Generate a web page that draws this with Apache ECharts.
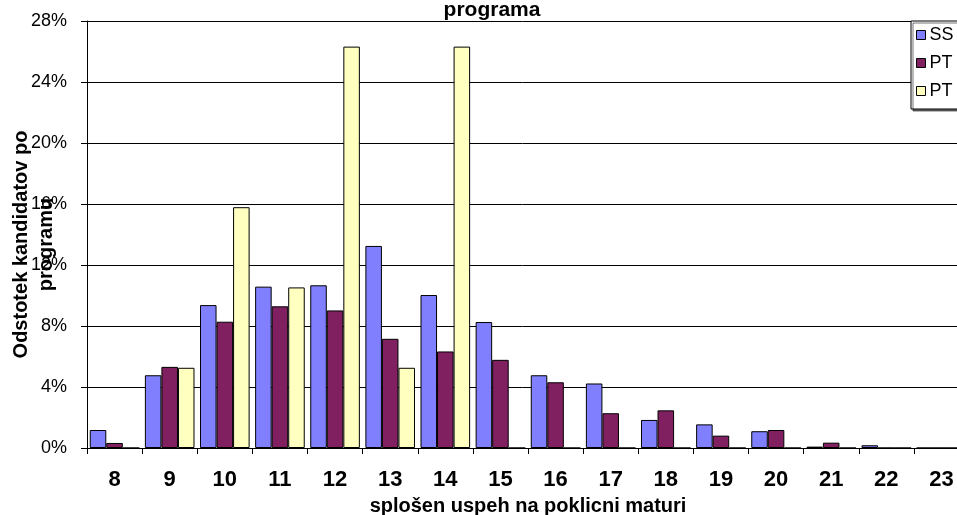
<!DOCTYPE html>
<html>
<head>
<meta charset="utf-8">
<script src="https://cdn.jsdelivr.net/npm/echarts@6/dist/echarts.min.js"></script>
<style>
html,body{margin:0;padding:0;background:#fff;}
#c{width:957px;height:515px;}
</style>
</head>
<body>
<div id="c"></div>
<script>
const categories = ['8','9','10','11','12','13','14','15','16','17','18','19','20','21','22','23'];
const seriesNames = ['SS', 'PT', 'PT '];
const ssValues  = [1.18, 4.77, 9.37, 10.58, 10.67, 13.25, 10.03, 8.26, 4.77, 4.23, 1.84, 1.55, 1.10, 0.09, 0.18, 0];
const pt1Values = [0.33, 5.32, 8.28, 9.29, 9.02, 7.16, 6.33, 5.78, 4.31, 2.28, 2.47, 0.81, 1.18, 0.35, 0, 0];
const pt2Values = [0, 5.26, 15.79, 10.53, 26.32, 5.26, 26.32, 0, 0, 0, 0, 0, 0, 0, 0, 0];
const yTicks = { min: 0, max: 28, interval: 4 };
const titleText = 'programa';
const yName = 'Odstotek kandidatov po\nprogramu';
const xName = 'splošen uspeh na poklicni maturi';
const colors = ['#8080FF', '#802060', '#FFFFC0'];

const FONT = 'Arial, "Liberation Sans", sans-serif';
const chart = echarts.init(document.getElementById('c'), null, {renderer: 'canvas'});

const barStyle = (c) => ({ color: c, borderColor: '#000', borderWidth: 1 });

chart.setOption({
  animation: false,
  backgroundColor: '#fff',
  title: {
    text: titleText,
    left: 492,
    textAlign: 'center',
    top: 0,
    padding: 0,
    textStyle: { fontFamily: FONT, fontSize: 21, fontWeight: 'bold', color: '#000', lineHeight: 21 }
  },
  legend: {
    orient: 'vertical',
    left: 911,
    top: 21,
    padding: [5, 40, 9, 5],
    itemGap: 10,
    itemWidth: 9,
    itemHeight: 9,
    icon: 'rect',
    backgroundColor: '#fff',
    borderColor: '#000',
    borderWidth: 1,
    borderRadius: 0,
    shadowColor: 'rgba(0,0,0,0.55)',
    shadowOffsetX: 2,
    shadowOffsetY: 2,
    shadowBlur: 0,
    itemStyle: { borderColor: '#000', borderWidth: 1 },
    textStyle: { fontFamily: FONT, fontSize: 18, lineHeight: 18, color: '#000', padding: [0, 0, 0, -1] },
    data: seriesNames
  },
  grid: {
    left: 87, top: 21, bottom: 67, right: -12,
    containLabel: false,
    outerBoundsMode: 'none'
  },
  xAxis: {
    type: 'category',
    data: categories,
    boundaryGap: true,
    name: xName,
    nameLocation: 'middle',
    nameGap: 48,
    nameMoveOverlap: false,
    nameTextStyle: { fontFamily: FONT, fontSize: 20, fontWeight: 'bold', color: '#000', lineHeight: 20 },
    axisLine: { show: true, lineStyle: { color: '#000', width: 1 } },
    axisTick: { show: true, length: 6, interval: 0, alignWithLabel: false, lineStyle: { color: '#000' } },
    axisLabel: { interval: 0, margin: 21, fontFamily: FONT, fontSize: 22, fontWeight: 'bold', color: '#000', lineHeight: 22 },
    splitLine: { show: false }
  },
  yAxis: {
    type: 'value',
    min: yTicks.min,
    max: yTicks.max,
    interval: yTicks.interval,
    name: yName,
    nameLocation: 'middle',
    nameGap: 28,
    nameMoveOverlap: false,
    nameTextStyle: { fontFamily: FONT, fontSize: 20, fontWeight: 'bold', color: '#000', lineHeight: 25, padding: [0, 20, 0, 0] },
    axisLine: { show: true, lineStyle: { color: '#000', width: 1 } },
    axisTick: { show: true, length: 6, lineStyle: { color: '#000' } },
    axisLabel: { margin: 20, formatter: '{value}%', fontFamily: FONT, fontSize: 18, color: '#000' },
    splitLine: { show: true, lineStyle: { color: '#000', width: 1 } }
  },
  series: [
    { name: seriesNames[0], type: 'bar', data: ssValues, barGap: '0%', barCategoryGap: '10%', itemStyle: barStyle(colors[0]) },
    { name: seriesNames[1], type: 'bar', data: pt1Values, barGap: '0%', barCategoryGap: '10%', itemStyle: barStyle(colors[1]) },
    { name: seriesNames[2], type: 'bar', data: pt2Values, barGap: '0%', barCategoryGap: '10%', itemStyle: barStyle(colors[2]) }
  ]
});
</script>
</body>
</html>
